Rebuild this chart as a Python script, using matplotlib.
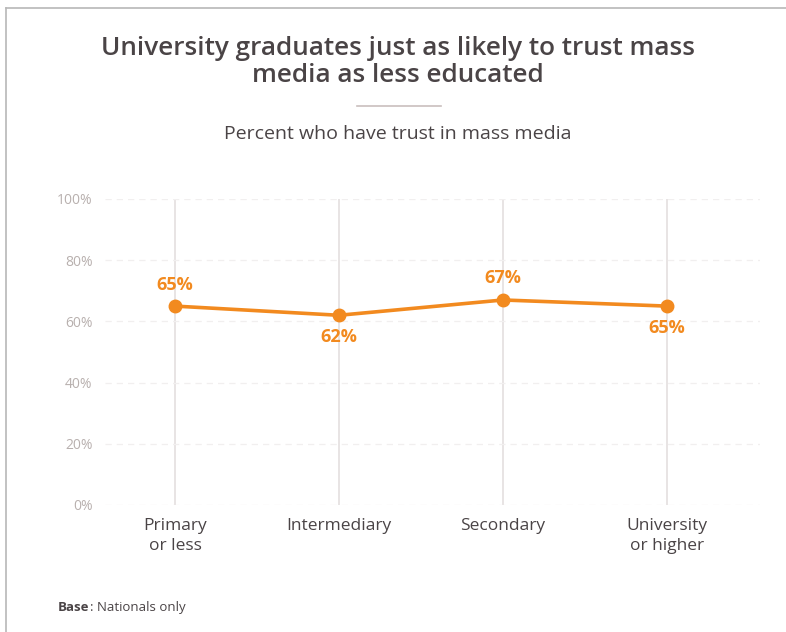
import matplotlib
matplotlib.use("Agg")
import matplotlib.pyplot as plt
from matplotlib.lines import Line2D

categories = ["Primary\nor less", "Intermediary", "Secondary", "University\nor higher"]
trust_pct = [65, 62, 67, 65]
label_above = [True, False, True, False]
y_ticks = [0, 20, 40, 60, 80, 100]

ORANGE = "#F28A1F"
TEXT = "#4a4446"
plt.rcParams["font.family"] = ["Open Sans", "DejaVu Sans"]

W, H = 786, 632
fig = plt.figure(figsize=(W / 100, H / 100), dpi=100)

def px(x0, y0, x1, y1):
    return [x0 / W, 1 - y1 / H, (x1 - x0) / W, (y1 - y0) / H]

ax = fig.add_axes(px(105, 199, 760, 505))
xs = list(range(len(categories)))
ax.set_xlim(-70 / 164, (760 - 175) / 164)
ax.set_ylim(0, 100)

for x in xs:
    ax.axvline(x, color="#e8e4e4", lw=1.4, zorder=1)
for y in y_ticks:
    ax.axhline(y, color="#f1efef", lw=0.9, ls=(0, (5, 4)), zorder=1)

ax.plot(xs, trust_pct, color=ORANGE, lw=2.6, marker="o", ms=9, zorder=3,
        solid_capstyle="round")

for x, v, up in zip(xs, trust_pct, label_above):
    ax.annotate(f"{v}%", (x, v), xytext=(0, 9 if up else -9),
                textcoords="offset points", ha="center",
                va="bottom" if up else "top", color=ORANGE,
                fontsize=13, fontweight="bold", zorder=4)

ax.set_xticks(xs)
ax.set_xticklabels(categories, fontsize=12.5, color=TEXT, linespacing=1.35)
ax.set_yticks(y_ticks)
ax.set_yticklabels([f"{t}%" for t in y_ticks], fontsize=10, color="#b8b0ae")
ax.tick_params(axis="both", length=0)
ax.tick_params(axis="y", pad=9)
ax.tick_params(axis="x", pad=9)
for s in ax.spines.values():
    s.set_visible(False)

fig.text(398 / W, 1 - 62 / H, "University graduates just as likely to trust mass\nmedia as less educated",
         ha="center", va="center", fontsize=18.8, color=TEXT, fontweight="semibold",
         linespacing=1.15)
fig.add_artist(Line2D([357 / W, 441 / W], [1 - 106 / H] * 2, color="#c9bfbd", lw=1.2))
fig.text(398 / W, 1 - 134 / H, "Percent who have trust in mass media",
         ha="center", va="center", fontsize=14, color=TEXT)

base_y = 1 - 611 / H
base = fig.text(58 / W, base_y, "Base", ha="left", va="baseline", fontsize=9.5,
                fontweight="bold", color=TEXT)
fig.canvas.draw()
bb = base.get_window_extent(renderer=fig.canvas.get_renderer())
fig.text(bb.x1 / W, base_y, ": Nationals only", ha="left", va="baseline",
         fontsize=9.5, color=TEXT)

# outer frame
fig.add_artist(Line2D([6 / W, 1], [1 - 8 / H] * 2, color="#b8b8b8", lw=1.2))
fig.add_artist(Line2D([6 / W] * 2, [0, 1 - 8 / H], color="#b8b8b8", lw=1.2))

fig.savefig("out.png", dpi=100, facecolor="white")
